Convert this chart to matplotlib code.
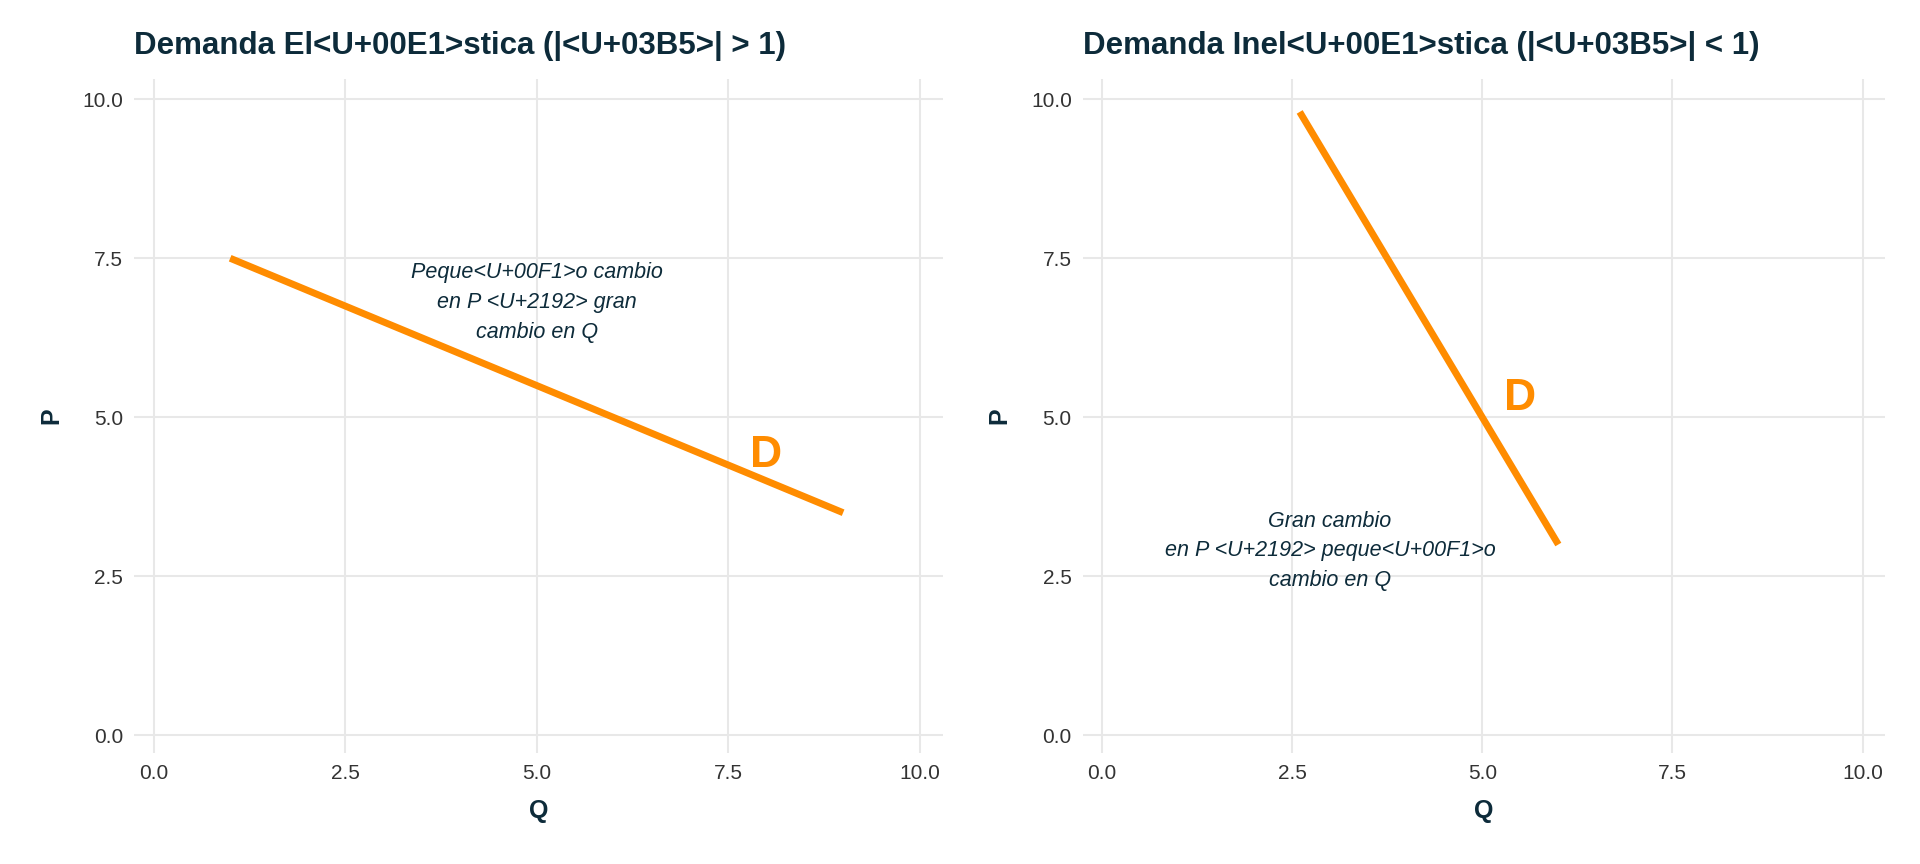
import matplotlib
matplotlib.use("Agg")
import matplotlib.pyplot as plt

# data
elastic_q = [1, 9]
elastic_p = [7.5, 3.5]
inelastic_q = [2.6, 6]
inelastic_p = [9.8, 3]
ticks = [0.0, 2.5, 5.0, 7.5, 10.0]
titles = ["Demanda El<U+00E1>stica (|<U+03B5>| > 1)",
          "Demanda Inel<U+00E1>stica (|<U+03B5>| < 1)"]
notes = ["Peque<U+00F1>o cambio\nen P <U+2192> gran\ncambio en Q",
         "Gran cambio\nen P <U+2192> peque<U+00F1>o\ncambio en Q"]
note_pos = [(5, 6.8), (3.0, 2.9)]
d_pos = [(8, 4.4), (5.5, 5.3)]

plt.rcParams["font.family"] = ["Liberation Sans", "DejaVu Sans"]
text_c = "#0d2b3a"
orange = "#FF8C00"

fig = plt.figure(figsize=(19.2, 8.64), dpi=100)
positions = [[0.070, 0.129, 0.421, 0.779], [0.564, 0.129, 0.418, 0.779]]
series = [(elastic_q, elastic_p), (inelastic_q, inelastic_p)]

for i in range(2):
    ax = fig.add_axes(positions[i])
    q, p = series[i]
    ax.plot(q, p, color=orange, lw=5, solid_capstyle="butt")
    ax.text(*d_pos[i], "D", color=orange, fontsize=32, fontweight="bold",
            ha="center", va="center")
    ax.text(*note_pos[i], notes[i], fontsize=15.5, style="italic", color=text_c,
            ha="center", va="center", linespacing=1.55)
    ax.set_xlim(-0.25, 10.3)
    ax.set_ylim(-0.27, 10.31)
    ax.set_xticks(ticks)
    ax.set_yticks(ticks)
    ax.set_xticklabels([f"{t:.1f}" for t in ticks])
    ax.set_yticklabels([f"{t:.1f}" for t in ticks])
    ax.tick_params(length=0, labelsize=15, colors="#333333", pad=8)
    ax.grid(True, color="#e8e8e8", lw=1.5)
    ax.set_axisbelow(True)
    for s in ax.spines.values():
        s.set_visible(False)
    ax.set_xlabel("Q", fontsize=18, fontweight="bold", color=text_c, labelpad=12)
    ax.set_ylabel("P", fontsize=18, fontweight="bold", color=text_c, labelpad=14)
    ax.set_title(titles[i], fontsize=22.5, fontweight="bold", color=text_c,
                 loc="left", x=0.0, pad=18)

fig.savefig("out.png", dpi=100)
